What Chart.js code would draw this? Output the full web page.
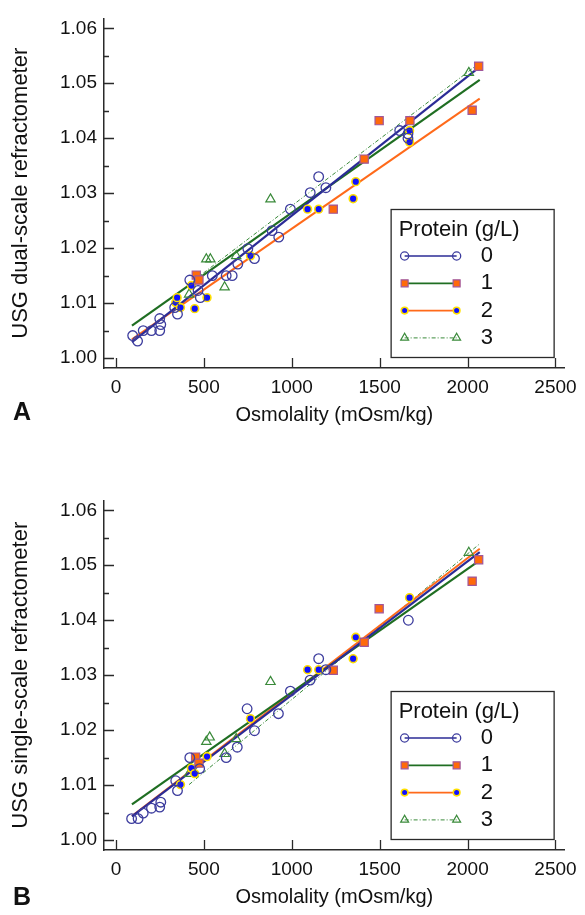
<!DOCTYPE html>
<html>
<head>
<meta charset="utf-8">
<script src="https://cdn.jsdelivr.net/npm/chart.js@4.4.0/dist/chart.umd.min.js"></script>
<style>
  html, body { margin: 0; padding: 0; background: #fff; }
  body { width: 585px; height: 915px; position: relative; overflow: hidden; font-family: "Liberation Sans", Arial, sans-serif; }
  .panel { position: absolute; left: 0; width: 585px; height: 433px; }
  #panelA { top: 0; }
  #panelB { top: 482px; }
  .tag { position: absolute; left: 13px; font-weight: bold; font-size: 25px; line-height: 25px; color: #111; }
</style>
</head>
<body>
<div class="panel" id="panelA"><canvas id="chartA"></canvas></div>
<div class="panel" id="panelB"><canvas id="chartB"></canvas></div>
<div class="tag" style="top:399px">A</div>
<div class="tag" style="top:884px">B</div>
<script>
/*
  USG vs osmolality, two refractometers, four protein levels
*/

const xTicks = [0, 500, 1000, 1500, 2000, 2500];
const yTicks = [1.00, 1.01, 1.02, 1.03, 1.04, 1.05, 1.06];
const groupLabels = ['0', '1', '2', '3'];
const legendTitle = 'Protein (g/L)';
const xTitle = 'Osmolality (mOsm/kg)';

// Panel A - dual-scale refractometer
const a0x = [95, 123, 155, 202, 249, 249, 255, 334, 350, 420, 467, 480, 548, 627, 661, 693, 750, 788, 888, 926, 992, 1105, 1153, 1194, 1614, 1661, 1661];
const a0y = [1.0041, 1.0031, 1.0050, 1.0050, 1.0072, 1.0050, 1.0061, 1.0092, 1.0080, 1.0142, 1.0123, 1.0110, 1.0150, 1.0150, 1.0150, 1.0171, 1.0199, 1.0181, 1.0232, 1.0220, 1.0271, 1.0301, 1.0330, 1.0310, 1.0414, 1.0408, 1.0400];
const a1x = [457, 472, 1236, 1412, 1497, 1672, 2026, 2063];
const a1y = [1.0151, 1.0142, 1.0271, 1.0362, 1.0432, 1.0432, 1.0451, 1.0531];
const a2x = [340, 348, 367, 429, 448, 518, 765, 1090, 1153, 1349, 1364, 1670, 1670];
const a2y = [1.0101, 1.0110, 1.0092, 1.0132, 1.0090, 1.0110, 1.0186, 1.0271, 1.0271, 1.0290, 1.0321, 1.0414, 1.0393];
const a3x = [416, 514, 537, 618, 684, 879, 2007];
const a3y = [1.0116, 1.0180, 1.0180, 1.0129, 1.0186, 1.0289, 1.0519];

// regression lines, panel A (end points)
const fitAx = [91, 2069];
const fitA0y = [1.0029, 1.0530];
const fitA1y = [1.0059, 1.0506];
const fitA2y = [1.0034, 1.0472];
const fitA3x = [416, 2069];
const fitA3y = [1.0135, 1.0537];

// Panel B - single-scale refractometer
const b0x = [89, 126, 155, 202, 249, 255, 340, 350, 420, 476, 627, 690, 746, 788, 924, 992, 1104, 1153, 1194, 1663];
const b0y = [1.0039, 1.0039, 1.0049, 1.0058, 1.0060, 1.0069, 1.0108, 1.0090, 1.0150, 1.0130, 1.0150, 1.0169, 1.0239, 1.0199, 1.0230, 1.0271, 1.0291, 1.0330, 1.0310, 1.0400];
const b1x = [453, 472, 1236, 1412, 1497, 2026, 2063];
const b1y = [1.0151, 1.0140, 1.0309, 1.0360, 1.0421, 1.0471, 1.0510];
const b2x = [367, 429, 448, 518, 765, 1090, 1153, 1349, 1364, 1670];
const b2y = [1.0101, 1.0131, 1.0121, 1.0152, 1.0221, 1.0310, 1.0310, 1.0330, 1.0369, 1.0441];
const b3x = [416, 514, 533, 618, 684, 879, 2007];
const b3y = [1.0121, 1.0179, 1.0187, 1.0157, 1.0184, 1.0288, 1.0523];

const fitBx = [91, 2069];
const fitB0y = [1.0043, 1.0524];
const fitB1y = [1.0065, 1.0509];
const fitB2y = [1.0044, 1.0530];
const fitB3x = [416, 2069];
const fitB3y = [1.0101, 1.0539];

const FONT = '"Liberation Sans", Arial, sans-serif';
const AXIS = '#2a2a2a';

// marker + line look for each protein group
const groupStyle = [
  { pointStyle: 'circle', radius: 4.8, fill: 'rgba(255,255,255,0)', stroke: '#3d3d9e', bw: 1.3,
    line: '#2b2b96', lw: 2.2, dash: [] },
  { pointStyle: 'rect', radius: 5.8, fill: '#ff6a0a', stroke: '#a0569a', bw: 1.2,
    line: '#1f6e22', lw: 2.2, dash: [] },
  { pointStyle: 'circle', radius: 3.9, fill: '#1010ff', stroke: '#ffe000', bw: 1.6,
    line: '#ff6a1a', lw: 2, dash: [] },
  { pointStyle: 'triangle', radius: 5.4, fill: 'rgba(255,255,255,0)', stroke: '#3a8a3a', bw: 1.2,
    line: '#3a8a3a', lw: 1, dash: [4, 2, 1, 2] }
];

function toPts(xs, ys) {
  return xs.map((x, i) => ({ x: x, y: ys[i] }));
}

function drawMarker(ctx, st, x, y) {
  ctx.save();
  ctx.fillStyle = st.fill;
  ctx.strokeStyle = st.stroke;
  ctx.lineWidth = st.bw;
  ctx.beginPath();
  if (st.pointStyle === 'rect') {
    const s = st.radius * Math.SQRT1_2;
    ctx.rect(x - s, y - s, 2 * s, 2 * s);
  } else if (st.pointStyle === 'triangle') {
    const r = st.radius;
    ctx.moveTo(x, y - r);
    ctx.lineTo(x + r * 0.866, y + r * 0.5);
    ctx.lineTo(x - r * 0.866, y + r * 0.5);
    ctx.closePath();
  } else {
    ctx.arc(x, y, st.radius, 0, Math.PI * 2);
  }
  ctx.fill();
  ctx.stroke();
  ctx.restore();
}

// inward major/minor ticks like the original figure
const innerTicks = {
  id: 'innerTicks',
  afterDraw(chart) {
    const { ctx, chartArea, scales } = chart;
    ctx.save();
    ctx.strokeStyle = AXIS;
    ctx.lineWidth = 1.3;
    ctx.beginPath();
    yTicks.forEach((v, i) => {
      const py = Math.round(scales.y.getPixelForValue(v)) + 0.5;
      ctx.moveTo(chartArea.left, py);
      ctx.lineTo(chartArea.left + 10, py);
      if (i < yTicks.length - 1) {
        const pm = Math.round(scales.y.getPixelForValue((v + yTicks[i + 1]) / 2)) + 0.5;
        ctx.moveTo(chartArea.left, pm);
        ctx.lineTo(chartArea.left + 5, pm);
      }
    });
    xTicks.forEach(v => {
      const px = Math.round(scales.x.getPixelForValue(v)) + 0.5;
      ctx.moveTo(px, chartArea.bottom);
      ctx.lineTo(px, chartArea.bottom - 10);
    });
    ctx.stroke();
    ctx.restore();
  }
};

// boxed legend in lower right: line sample with a marker at each end
const proteinLegend = {
  id: 'proteinLegend',
  afterDraw(chart) {
    const { ctx, chartArea } = chart;
    const w = 163, h = 148;
    const x0 = chartArea.right - 174, y0 = chartArea.bottom - 159;
    ctx.save();
    ctx.fillStyle = '#fff';
    ctx.fillRect(x0, y0, w, h);
    ctx.strokeStyle = AXIS;
    ctx.lineWidth = 1.3;
    ctx.strokeRect(x0 + 0.5, y0 + 0.5, w, h);
    ctx.fillStyle = '#111';
    ctx.font = '22px ' + FONT;
    ctx.textBaseline = 'middle';
    ctx.fillText(legendTitle, x0 + 8, y0 + 21);
    groupLabels.forEach((lab, i) => {
      const st = groupStyle[i];
      const y = y0 + 47 + i * 27.3;
      const xa = x0 + 14, xb = x0 + 66;
      ctx.save();
      ctx.strokeStyle = st.line;
      ctx.lineWidth = Math.min(st.lw, 1.7);
      ctx.setLineDash(st.dash);
      ctx.beginPath();
      ctx.moveTo(xa, y);
      ctx.lineTo(xb, y);
      ctx.stroke();
      ctx.restore();
      drawMarker(ctx, Object.assign({}, st, { radius: st.radius * 0.85 }), xa, y);
      drawMarker(ctx, Object.assign({}, st, { radius: st.radius * 0.85 }), xb, y);
      ctx.fillStyle = '#111';
      ctx.fillText(lab, x0 + 90, y);
    });
    ctx.restore();
  }
};

function makeChart(id, pts, fits, yTitle) {
  const datasets = [];
  pts.forEach((p, i) => {
    const st = groupStyle[i];
    datasets.push({
      label: groupLabels[i],
      data: toPts(p[0], p[1]),
      pointStyle: st.pointStyle,
      pointRadius: st.radius,
      pointBackgroundColor: st.fill,
      pointBorderColor: st.stroke,
      pointBorderWidth: st.bw,
      showLine: false,
      order: 1
    });
  });
  fits.forEach((f, i) => {
    const st = groupStyle[i];
    datasets.push({
      label: 'fit ' + groupLabels[i],
      data: toPts(f[0], f[1]),
      showLine: true,
      pointRadius: 0,
      borderColor: st.line,
      borderWidth: st.lw,
      borderDash: st.dash,
      order: 2
    });
  });

  return new Chart(document.getElementById(id), {
    type: 'scatter',
    data: { datasets: datasets },
    options: {
      responsive: true,
      maintainAspectRatio: false,
      animation: false,
      events: [],
      layout: { padding: { top: 15, right: 19, bottom: 0, left: 0 } },
      plugins: { legend: { display: false }, tooltip: { enabled: false } },
      scales: {
        x: {
          type: 'linear',
          min: -68,
          max: 2552,
          afterBuildTicks: s => { s.ticks = xTicks.map(v => ({ value: v })); },
          afterFit: s => { s.height = 65; },
          grid: { display: true, drawOnChartArea: false, drawTicks: false },
          border: { display: true, color: AXIS, width: 1.5 },
          ticks: { color: '#111', font: { family: FONT, size: 19 }, padding: 8, maxRotation: 0, callback: v => String(v) },
          title: { display: true, text: xTitle, color: '#111', font: { family: FONT, size: 20 }, padding: { top: 0, bottom: 6 } }
        },
        y: {
          type: 'linear',
          min: 0.9982,
          max: 1.0618,
          afterBuildTicks: s => { s.ticks = yTicks.map(v => ({ value: v })); },
          afterFit: s => { s.width = 104; },
          grid: { display: true, drawOnChartArea: false, drawTicks: false },
          border: { display: true, color: AXIS, width: 1.5 },
          ticks: { color: '#111', font: { family: FONT, size: 19 }, padding: 7, callback: v => v.toFixed(2) },
          title: { display: true, text: yTitle, color: '#111', font: { family: FONT, size: 22 }, padding: { top: 8, bottom: 0 } }
        }
      }
    },
    plugins: [innerTicks, proteinLegend]
  });
}

makeChart('chartA',
  [[a0x, a0y], [a1x, a1y], [a2x, a2y], [a3x, a3y]],
  [[fitAx, fitA0y], [fitAx, fitA1y], [fitAx, fitA2y], [fitA3x, fitA3y]],
  'USG dual-scale refractometer');

makeChart('chartB',
  [[b0x, b0y], [b1x, b1y], [b2x, b2y], [b3x, b3y]],
  [[fitBx, fitB0y], [fitBx, fitB1y], [fitBx, fitB2y], [fitB3x, fitB3y]],
  'USG single-scale refractometer');
</script>
</body>
</html>
